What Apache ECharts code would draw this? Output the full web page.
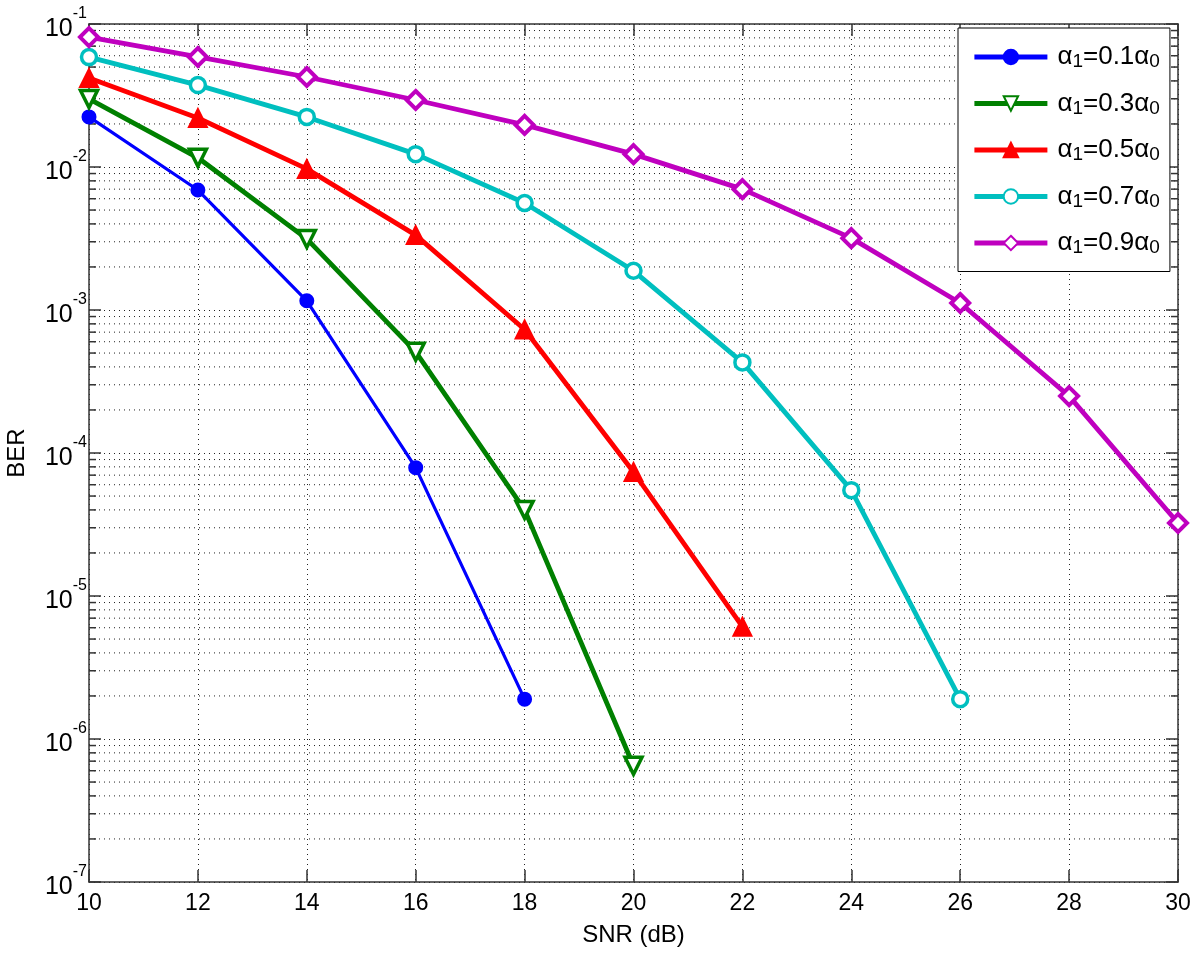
<!DOCTYPE html>
<html>
<head>
<meta charset="utf-8">
<script src="https://cdn.jsdelivr.net/npm/echarts@6/dist/echarts.min.js"></script>
<style>
html,body{margin:0;padding:0;background:#fff;}
#chart{width:1200px;height:954px;}
</style>
</head>
<body>
<div id="chart"></div>
<script>
const snr = [10, 12, 14, 16, 18, 20, 22, 24, 26, 28, 30];
const xTicks = [10, 12, 14, 16, 18, 20, 22, 24, 26, 28, 30];
const berA01 = [0.0224, 0.0069, 0.00116, 7.9e-5, 1.9e-6];
const berA03 = [0.0299, 0.0116, 0.00314, 5.1e-4, 4.0e-5, 6.5e-7];
const berA05 = [0.0419, 0.022, 0.0097, 0.00334, 7.3e-4, 7.36e-5, 6.1e-6];
const berA07 = [0.0587, 0.0374, 0.0224, 0.0123, 0.0056, 0.00188, 4.3e-4, 5.5e-5, 1.9e-6];
const berA09 = [0.081, 0.0588, 0.0426, 0.0294, 0.0197, 0.0123, 0.0070, 0.00318, 0.00112, 2.5e-4, 3.24e-5];
const names = ['a0.1', 'a0.3', 'a0.5', 'a0.7', 'a0.9'];
const coefLabels = ['0.1', '0.3', '0.5', '0.7', '0.9'];
const yExponents = [-7, -6, -5, -4, -3, -2, -1];

const FONT = 'Liberation Sans, Arial, sans-serif';
const minorVals = [];
for (let k = yExponents[0]; k < yExponents[yExponents.length - 1]; k++) {
  for (let m = 2; m <= 9; m++) minorVals.push(m * Math.pow(10, k));
}
const xMin = xTicks[0], xMax = xTicks[xTicks.length - 1];
function pairs(arr) { return arr.map((v, i) => [snr[i], v]); }

const styles = [
  {color: '#0000ff', symbol: 'circle', size: 13, width: 3.2, fill: '#0000ff', bw: 2},
  {color: '#008000', symbol: 'path://M0,0 L10,0 L5,9 Z', size: 17, width: 4.8, fill: '#ffffff', bw: 3.5},
  {color: '#ff0000', symbol: 'triangle', size: 18, width: 4.8, fill: '#ff0000', bw: 2},
  {color: '#00bfbf', symbol: 'circle', size: 15, width: 4.8, fill: '#ffffff', bw: 3.5},
  {color: '#bf00bf', symbol: 'diamond', size: 18, width: 4.8, fill: '#ffffff', bw: 4}
];
const datasets = [berA01, berA03, berA05, berA07, berA09];

const series = [{
  name: 'minorGrid',
  type: 'custom',
  silent: true,
  z: 1,
  data: minorVals.map(v => [xMin, v]),
  renderItem: function (params, api) {
    const v = api.value(1);
    const p0 = api.coord([xMin, v]);
    const p1 = api.coord([xMax, v]);
    return {
      type: 'group',
      children: [
        {type: 'line', shape: {x1: p0[0], y1: p0[1], x2: p1[0], y2: p1[1]},
         style: {stroke: '#222', lineWidth: 1, lineDash: [1, 4]}},
        {type: 'line', shape: {x1: p0[0], y1: p0[1], x2: p0[0] + 7, y2: p0[1]},
         style: {stroke: '#333', lineWidth: 1.5}},
        {type: 'line', shape: {x1: p1[0] - 7, y1: p1[1], x2: p1[0], y2: p1[1]},
         style: {stroke: '#333', lineWidth: 1.5}}
      ]
    };
  }
}];
datasets.forEach((d, i) => series.push({
  name: names[i],
  type: 'line',
  data: pairs(d),
  symbol: styles[i].symbol,
  symbolSize: styles[i].size,
  showAllSymbol: true,
  z: 3 + i,
  lineStyle: {color: styles[i].color, width: styles[i].width},
  itemStyle: {color: styles[i].fill, borderColor: styles[i].color, borderWidth: styles[i].bw},
  emphasis: {disabled: true}
}));

const chart = echarts.init(document.getElementById('chart'));
chart.setOption({
  animation: false,
  backgroundColor: '#ffffff',
  textStyle: {fontFamily: FONT},
  grid: {left: 89, right: 22, top: 24, bottom: 72, containLabel: false, outerBoundsMode: 'none'},
  legend: {
    data: names,
    orient: 'vertical',
    left: 958,
    top: 28,
    padding: [16, 10, 14, 14],
    itemGap: 19,
    itemWidth: 73,
    itemHeight: 18,
    backgroundColor: '#ffffff',
    borderColor: '#000000',
    borderWidth: 1,
    borderRadius: 0,
    lineStyle: {width: 4.8},
    formatter: function (n) {
      const i = names.indexOf(n);
      return '{p|}{a|α}{s|1}{a|=' + coefLabels[i] + 'α}{s|0}';
    },
    textStyle: {
      fontFamily: FONT,
      color: '#000',
      rich: {
        p: {width: 5, lineHeight: 29},
        a: {fontSize: 26, fontFamily: FONT, lineHeight: 29, verticalAlign: 'middle', color: '#000'},
        s: {fontSize: 19, fontFamily: FONT, lineHeight: 29, verticalAlign: 'bottom', color: '#000'}
      }
    }
  },
  xAxis: [{
    type: 'value',
    min: xMin, max: xMax, interval: 2,
    name: 'SNR (dB)',
    nameLocation: 'middle',
    nameGap: 41,
    nameTextStyle: {fontSize: 24, fontFamily: FONT, color: '#000'},
    axisLine: {show: true, onZero: false, lineStyle: {color: '#333', width: 1.5}},
    axisTick: {show: true, inside: true, length: 12, lineStyle: {color: '#333', width: 1.5}},
    axisLabel: {fontSize: 23, fontFamily: FONT, color: '#000', margin: 10,
      formatter: v => xTicks.indexOf(v) >= 0 ? String(v) : ''},
    splitLine: {show: true, lineStyle: {color: '#222', width: 1, type: [1, 4]}}
  }, {
    type: 'value',
    position: 'top',
    min: xMin, max: xMax, interval: 2,
    axisLine: {show: true, onZero: false, lineStyle: {color: '#333', width: 1.5}},
    axisTick: {show: true, inside: true, length: 12, lineStyle: {color: '#333', width: 1.5}},
    axisLabel: {show: false},
    splitLine: {show: false}
  }],
  yAxis: [{
    type: 'log',
    logBase: 10,
    min: Math.pow(10, yExponents[0]),
    max: Math.pow(10, yExponents[yExponents.length - 1]),
    interval: 1,
    name: 'BER',
    nameLocation: 'middle',
    nameGap: 60,
    nameRotate: 90,
    nameTextStyle: {fontSize: 24, fontFamily: FONT, color: '#000'},
    axisLine: {show: true, onZero: false, lineStyle: {color: '#333', width: 1.5}},
    axisTick: {show: true, inside: true, length: 12, lineStyle: {color: '#333', width: 1.5}},
    axisLabel: {
      margin: 2,
      formatter: function (v) {
        const e = Math.round(Math.log10(v));
        return '{b|10}{e|' + e + '}';
      },
      rich: {
        b: {fontSize: 25, fontFamily: FONT, color: '#000', lineHeight: 36, verticalAlign: 'bottom'},
        e: {fontSize: 16, fontFamily: FONT, color: '#000', lineHeight: 36, verticalAlign: 'top'}
      }
    },
    splitLine: {show: true, lineStyle: {color: '#222', width: 1, type: [1, 4]}}
  }, {
    type: 'log',
    logBase: 10,
    position: 'right',
    min: Math.pow(10, yExponents[0]),
    max: Math.pow(10, yExponents[yExponents.length - 1]),
    interval: 1,
    axisLine: {show: true, onZero: false, lineStyle: {color: '#333', width: 1.5}},
    axisTick: {show: true, inside: true, length: 12, lineStyle: {color: '#333', width: 1.5}},
    axisLabel: {show: false},
    splitLine: {show: false}
  }],
  series: series
});
</script>
</body>
</html>
